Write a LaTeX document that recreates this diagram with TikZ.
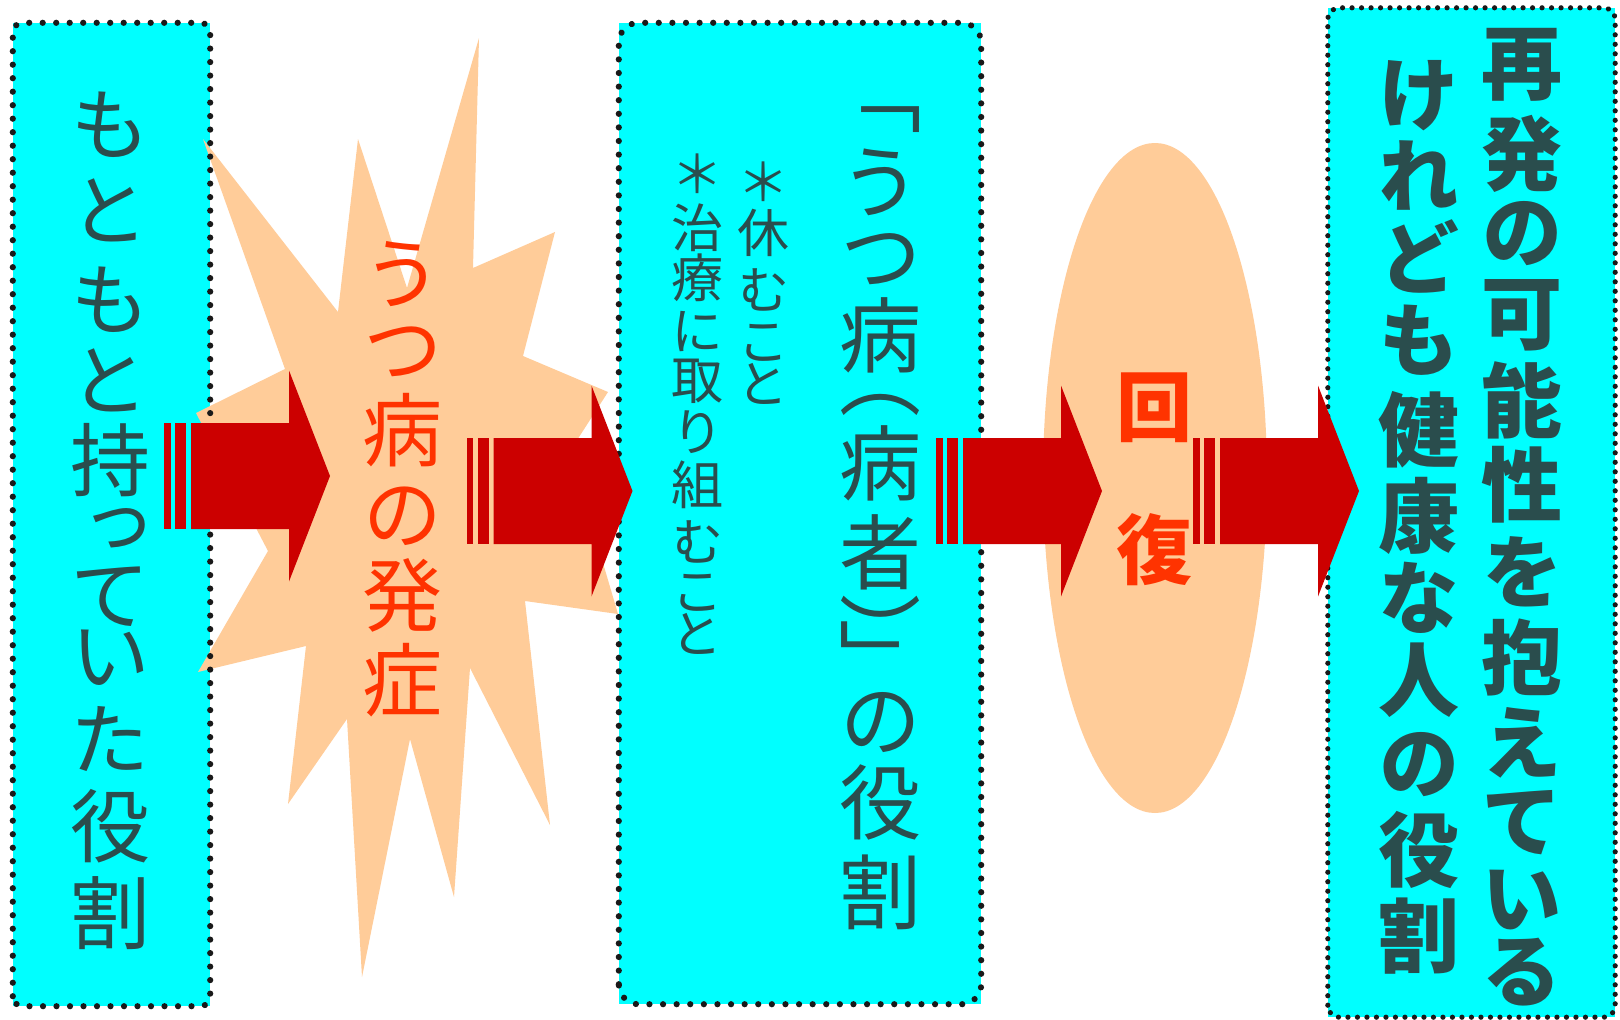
\documentclass[tikz,border=0pt]{standalone}
\usepackage{fontspec}
\usetikzlibrary{shapes.geometric,decorations.markings}
\newfontfamily\jpfont[RawFeature={+vert}]{Noto Sans CJK JP}
\definecolor{boxcyan}{RGB}{0,255,255}
\definecolor{dotcol}{RGB}{25,25,25}
\definecolor{txtcol}{RGB}{42,77,77}
\definecolor{redtxt}{RGB}{255,51,0}
\definecolor{arrowred}{RGB}{204,0,0}
\definecolor{peach}{RGB}{255,204,153}
% striped block arrow: #1 stripe start x, #2 centre y
\newcommand\stripearrow[2]{%
  \fill[arrowred] (#1,#2-53) rectangle (#1+6.5,#2+53);
  \fill[arrowred] (#1+11,#2-53) rectangle (#1+22,#2+53);
  \fill[arrowred] (#1+27,#2-53) -- (#1+125,#2-53) -- (#1+125,#2-105.5)
     -- (#1+166,#2) -- (#1+125,#2+105.5) -- (#1+125,#2+53) -- (#1+27,#2+53) -- cycle;
}
% vertical column of characters: #1 name, #2 x, #3 style, #4 list char/y
\newcommand\vcolumn[4]{%
  \foreach \ch/\yy [count=\i] in {#4} {\node[#3] (#1-\i) at (#2,\yy) {\ch};}
}
\begin{document}
\begin{tikzpicture}[x=1pt,y=-1pt,
  boxfill/.style={fill=boxcyan, draw=none, inner sep=0pt},
  dotline/.style 2 args={decorate, decoration={markings,
     mark=between positions 0 and 1 step #1 with {\fill[dotcol] (0,0) circle (#2);}}},
  ch/.style={inner sep=0pt, text=txtcol, font=\jpfont\fontsize{#1pt}{#1pt}\selectfont},
  chb/.style={inner sep=0pt, text=txtcol, font=\jpfont\bfseries\fontsize{#1pt}{#1pt}\selectfont},
  chr/.style={inner sep=0pt, text=redtxt, font=\jpfont\fontsize{#1pt}{#1pt}\selectfont},
  chrb/.style={inner sep=0pt, text=redtxt, font=\jpfont\bfseries\fontsize{#1pt}{#1pt}\selectfont},
]
\fill[white] (0,0) rectangle (1620,1020);
\useasboundingbox (0,0) rectangle (1620,1020);

% box fills
\node[boxfill, minimum width=197pt, minimum height=983pt] (b1) at (111.5,514.5) {};
\node[boxfill, minimum width=362pt, minimum height=981pt] (b2) at (800,513.5) {};
\node[boxfill, minimum width=287pt, minimum height=1009pt] (b3) at (1471.5,512.5) {};

% starburst
\fill[peach] (203,139) -- (338,312) -- (358,139) -- (407,288) -- (479,38)
  -- (473,268) -- (555,232) -- (523,356) -- (608,392) -- (570,451)
  -- (618,614) -- (525,601) -- (550,825) -- (470,668) -- (454,897)
  -- (410,739) -- (362,977) -- (347,719) -- (288,804) -- (306,646)
  -- (198,672) -- (268,551) -- (196,413) -- (285,369) -- cycle;

% ellipse
\node[ellipse, fill=peach, inner sep=0pt, minimum width=224pt, minimum height=670pt] (rec) at (1155,478) {};

% box borders (round dots)
\path[dotline={13.5pt}{3.1pt}, rounded corners=10pt] (b1.south west) rectangle (b1.north east);
\path[dotline={13.6pt}{3.1pt}, rounded corners=20pt] (b2.south west) rectangle (b2.north east);
\path[dotline={9.5pt}{2.6pt}, rounded corners=12pt] (b3.south west) rectangle (b3.north east);

% arrows
\stripearrow{164}{476}
\stripearrow{466.5}{491}
\stripearrow{936}{491}
\stripearrow{1193}{491}

% texts
\vcolumn{t1}{110}{ch=80}{も/125,と/210,も/300,と/380,持/460,っ/532,て/597,い/658,た/739,役/826,割/913}
\vcolumn{t2}{880}{ch=82}{﹁/120,う/182,つ/260,病/335,︵/405,病/463,者/552,︶/630,﹂/656,の/723,役/802,割/892}
\vcolumn{t3}{763}{ch=52}{＊/182,休/233,む/290,こ/343,と/384}
\vcolumn{t4}{697}{ch=52}{＊/174,治/228,療/278,に/332,取/381,り/432,組/485,む/542,こ/593,と/634}
\vcolumn{t5}{402}{chr=80}{う/274,つ/353,病/430,の/516,発/595,症/680}
\vcolumn{t6}{1154}{chrb=76}{回/408,復/550}
\vcolumn{t7}{1522}{chb=81}{再/65,発/154,の/234,可/315,能/400,性/485,を/572,抱/657,え/743,て/823,い/900,る/972}
\vcolumn{t8}{1419}{chb=81}{け/96,れ/175,ど/256,も/340,健/430,康/516,な/598,人/680,の/765,役/850,割/936}
\end{tikzpicture}
\end{document}
